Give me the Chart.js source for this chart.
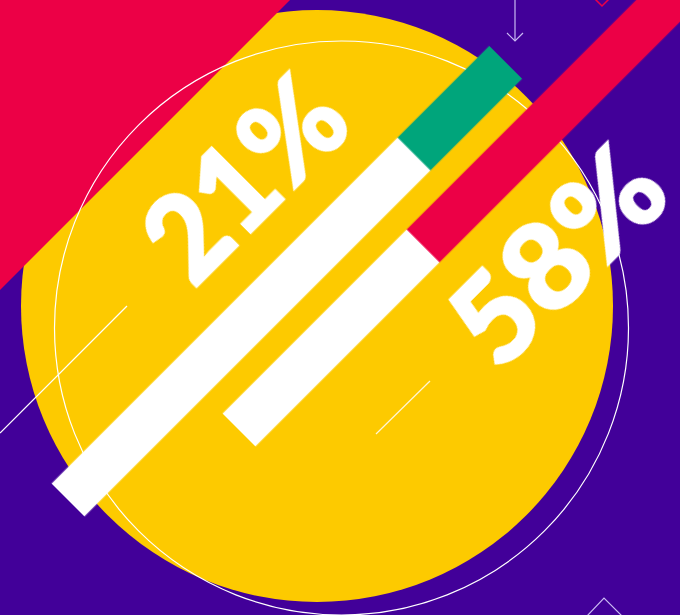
<!DOCTYPE html>
<html><head><meta charset="utf-8">
<script src="https://cdn.jsdelivr.net/npm/chart.js@4"></script>
<style>
html,body{margin:0;padding:0;background:#420099;}
#stage{position:relative;width:680px;height:615px;overflow:hidden;background:#420099;}
#bg{position:absolute;left:0;top:0;}
canvas.bar{position:absolute;transform:rotate(-45deg);transform-origin:20px 200px;}
#c1{left:47.5px;top:300px;}
#c2{left:218.5px;top:229.5px;}
</style></head><body>
<div id="stage">
<svg id="bg" width="680" height="615">
 <circle cx="317" cy="306" r="296" fill="#FDCA00"/>
 <polygon points="0,0 290,0 0,290" fill="#EC0046"/>
 <circle cx="341.5" cy="328" r="287" fill="none" stroke="#ffffff" stroke-width="1.2"/>
 <line x1="0" y1="433" x2="127" y2="306" stroke="#ffffff" stroke-width="1.2"/>
 <line x1="376" y1="434" x2="430" y2="381" stroke="#fff6d8" stroke-width="1.2"/>
 <line x1="515" y1="0" x2="515" y2="41" stroke="#c9b9f2" stroke-width="1.2"/>
 <polyline points="507,33 515,41 523,33" fill="none" stroke="#c9b9f2" stroke-width="1.2"/>
 <polyline points="595,-1 602,6 609,-1" fill="none" stroke="#EC0046" stroke-width="1.5"/>
 <polyline points="587,616 604,598 622,616" fill="none" stroke="#c9b9f2" stroke-width="1.2"/>
</svg>
<canvas id="c1" class="bar" width="659" height="400"></canvas>
<canvas id="c2" class="bar" width="659" height="400"></canvas>
</div>
<script>
// ---- data ----
const categories = ['Group A', 'Group B'];
const highlightValues = [21, 58];
const restValues = [79, 42];
const valueLabels = ['21%', '58%'];

// ---- styles ----
const highlightColors = ['#00A57B', '#EC0046'];
const labelStyle = [
  {offset: -60, center: 57, width: 230},
  {offset: 144, center: 56.3, width: 249}
];

function makeLabelPlugin(i) {
  return {
    id: 'valueLabel' + i,
    afterDatasetsDraw(chart) {
      const bar = chart.getDatasetMeta(1).data[0];
      const ctx = chart.ctx;
      const st = labelStyle[i];
      const x = chart.scales.x.getPixelForValue(st.center);
      const y = bar.y + st.offset;
      ctx.save();
      ctx.font = '900 121px Lato, "Open Sans", sans-serif';
      ctx.fillStyle = '#ffffff';
      ctx.strokeStyle = '#ffffff';
      ctx.lineWidth = 2.5;
      ctx.lineJoin = 'miter';
      ctx.textAlign = 'center';
      ctx.textBaseline = 'alphabetic';
      const w = ctx.measureText(valueLabels[i]).width;
      const sx = st.width / w;
      ctx.translate(x, y);
      ctx.scale(sx, 1);
      ctx.fillText(valueLabels[i], 0, 0);
      ctx.strokeText(valueLabels[i], 0, 0);
      ctx.restore();
    }
  };
}

['c1', 'c2'].forEach((id, i) => {
  new Chart(document.getElementById(id), {
    type: 'bar',
    data: {
      labels: [categories[i]],
      datasets: [
        {label: 'rest', data: [restValues[i]], backgroundColor: '#ffffff', barThickness: 46, borderWidth: 0},
        {label: 'value', data: [highlightValues[i]], backgroundColor: highlightColors[i], barThickness: 46, borderWidth: 0}
      ]
    },
    options: {
      indexAxis: 'y',
      responsive: false,
      animation: false,
      devicePixelRatio: 1,
      layout: {padding: {left: 20, right: 20, top: 0, bottom: 0}},
      scales: {
        x: {stacked: true, min: 0, max: 100, display: false},
        y: {stacked: true, display: false}
      },
      plugins: {legend: {display: false}, tooltip: {enabled: false}}
    },
    plugins: [makeLabelPlugin(i)]
  });
});
</script>
</body></html>
